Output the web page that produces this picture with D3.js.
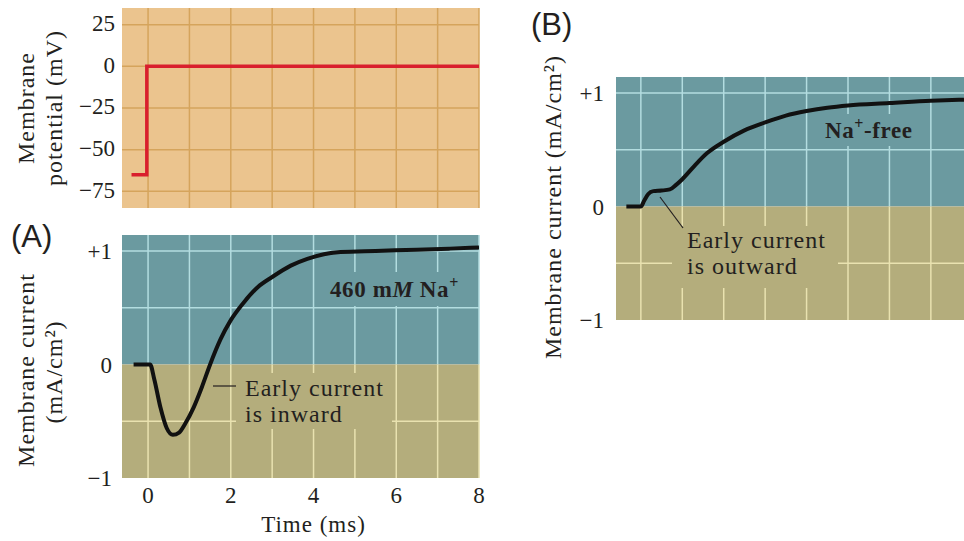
<!DOCTYPE html>
<html>
<head>
<meta charset="utf-8">
<script src="https://cdn.jsdelivr.net/npm/d3@7"></script>
<style>
  body { margin: 0; background: #fff; }
  text { font-family: "Liberation Serif", "Times New Roman", serif; fill: #231f20; }
  .lbl { letter-spacing: 1px; }
  .panel { font-family: "Liberation Sans", Arial, sans-serif; }
</style>
</head>
<body>
<svg id="chart" width="964" height="541"></svg>
<script>
// time axis (ms)
var timeTicks = [0, 2, 4, 6, 8];
var timeGrid = [0, 1, 2, 3, 4, 5, 6, 7, 8];

// voltage clamp step (mV)
var voltageTicks = [25, 0, -25, -50, -75];
var stepTime = [-0.4, -0.03, -0.03, 8];
var stepVoltage = [-65, -65, 0, 0];

// current ticks / gridlines (mA/cm2)
var currentTicks = [1, 0, -1];
var currentTickLabels = ["+1", "0", "\u22121"];
var currentGrid = [1, 0.5, -0.5];

// (A) 460 mM Na+
var naTime =    [-0.35, 0.05, 0.15, 0.3, 0.45, 0.6, 0.75, 0.9, 1.1, 1.3, 1.5, 1.75, 2.0, 2.3, 2.65, 3.0, 3.45, 3.85, 4.25, 4.65, 5.5, 6.5, 7.3, 8.0];
var naCurrent = [0, 0, -0.13, -0.38, -0.56, -0.62, -0.6, -0.52, -0.38, -0.2, 0, 0.22, 0.39, 0.54, 0.68, 0.77, 0.87, 0.93, 0.97, 0.99, 1.0, 1.01, 1.02, 1.03];

// (B) Na+-free
var freeTime =    [-0.35, 0.0, 0.08, 0.18, 0.3, 0.5, 0.7, 0.85, 1.0, 1.3, 1.6, 2.0, 2.5, 3.0, 3.5, 4.0, 4.5, 5.0, 6.0, 7.0, 7.8];
var freeCurrent = [0, 0, 0.05, 0.11, 0.135, 0.14, 0.15, 0.19, 0.24, 0.36, 0.47, 0.57, 0.67, 0.74, 0.8, 0.84, 0.87, 0.89, 0.91, 0.93, 0.94];

var svg = d3.select('#chart');

var tan = "#ebc48e", tanGrid = "#d5a45c";
var blue = "#6b9aa0", blueGrid = "#b3dde0";
var khaki = "#b4ad7c", khakiGrid = "#e9e2b0";

// scales
var xA = d3.scaleLinear().domain([-0.63, 8]).range([122, 479]);
var xB = d3.scaleLinear().domain([-0.6, 7.8]).range([616, 964]);
var yV = d3.scaleLinear().domain([-85, 35]).range([208, 8]);
var yA = d3.scaleLinear().domain([-1, 1.14]).range([478, 235]);
var yB = d3.scaleLinear().domain([-1, 1.14]).range([320, 77]);

function line(x, y) {
  return d3.line().x(function(d) { return x(d[0]); }).y(function(d) { return y(d[1]); });
}

/* ---------- top: membrane potential ---------- */
var gTop = svg.append("g");
gTop.append("rect")
  .attr("x", xA.range()[0]).attr("y", yV.range()[1])
  .attr("width", xA.range()[1] - xA.range()[0])
  .attr("height", yV.range()[0] - yV.range()[1])
  .attr("fill", tan);
gTop.selectAll(".vg").data(timeGrid).enter().append("line")
  .attr("x1", xA).attr("x2", xA)
  .attr("y1", yV.range()[1]).attr("y2", yV.range()[0])
  .attr("stroke", tanGrid).attr("stroke-width", 1.5);
gTop.selectAll(".hg").data(voltageTicks).enter().append("line")
  .attr("x1", xA.range()[0]).attr("x2", xA.range()[1])
  .attr("y1", yV).attr("y2", yV)
  .attr("stroke", tanGrid).attr("stroke-width", 1.5);
gTop.append("path")
  .datum(d3.zip(stepTime, stepVoltage))
  .attr("d", line(xA, yV).curve(d3.curveLinear))
  .attr("fill", "none").attr("stroke", "#d91f2d").attr("stroke-width", 3.5);
gTop.selectAll(".vt").data(voltageTicks).enter().append("text")
  .attr("x", 115).attr("y", function(d) { return yV(d) + 1; })
  .attr("text-anchor", "end").attr("dominant-baseline", "middle")
  .attr("font-size", 23)
  .text(function(d) { return d < 0 ? "\u2212" + (-d) : d; });
gTop.append("text").attr("class", "lbl")
  .attr("transform", "translate(26,108) rotate(-90)")
  .attr("text-anchor", "middle").attr("dominant-baseline", "central")
  .attr("font-size", 24).text("Membrane");
gTop.append("text").attr("class", "lbl")
  .attr("transform", "translate(54,108) rotate(-90)")
  .attr("text-anchor", "middle").attr("dominant-baseline", "central")
  .attr("font-size", 24).text("potential (mV)");

/* ---------- current panels ---------- */
function currentPanel(x, y, curve, grid, masks) {
  var g = svg.append("g");
  var x0 = x.range()[0], x1 = x.range()[1];
  g.append("rect").attr("x", x0).attr("y", y.range()[1])
    .attr("width", x1 - x0).attr("height", y(0) - y.range()[1]).attr("fill", blue);
  g.append("rect").attr("x", x0).attr("y", y(0))
    .attr("width", x1 - x0).attr("height", y.range()[0] - y(0)).attr("fill", khaki);

  // gridlines, lighter on each colour band
  grid.forEach(function(t) {
    g.append("line").attr("x1", x(t)).attr("x2", x(t))
      .attr("y1", y.range()[1]).attr("y2", y(0))
      .attr("stroke", blueGrid).attr("stroke-width", 1.5);
    g.append("line").attr("x1", x(t)).attr("x2", x(t))
      .attr("y1", y(0)).attr("y2", y.range()[0])
      .attr("stroke", khakiGrid).attr("stroke-width", 1.5);
  });
  currentGrid.forEach(function(v) {
    g.append("line").attr("x1", x0).attr("x2", x1)
      .attr("y1", y(v)).attr("y2", y(v))
      .attr("stroke", v > 0 ? blueGrid : khakiGrid).attr("stroke-width", 1.5);
  });
  // text backgrounds hide the grid
  masks.forEach(function(m) {
    g.append("rect").attr("x", m[0]).attr("y", m[1]).attr("width", m[2]).attr("height", m[3])
      .attr("fill", m[4]);
  });

  g.append("path").datum(curve)
    .attr("d", line(x, y).curve(d3.curveMonotoneX))
    .attr("fill", "none").attr("stroke", "#111").attr("stroke-width", 4)
    .attr("stroke-linejoin", "round");
  return g;
}

var gA = currentPanel(xA, yA, d3.zip(naTime, naCurrent), timeGrid,
  [[236, 373, 156, 56, khaki], [326, 272, 140, 34, blue]]);
var gB = currentPanel(xB, yB, d3.zip(freeTime, freeCurrent), timeGrid.slice(0, 8),
  [[672, 226, 166, 62, khaki], [818, 114, 104, 32, blue]]);

// tick labels
gA.selectAll(".ct").data(currentTicks).enter().append("text")
  .attr("x", 112).attr("y", function(d) { return yA(d) + 3; })
  .attr("text-anchor", "end").attr("dominant-baseline", "middle")
  .attr("font-size", 23)
  .text(function(d, i) { return currentTickLabels[i]; });
gB.selectAll(".ct").data(currentTicks).enter().append("text")
  .attr("x", 604).attr("y", function(d) { return yB(d) + 3; })
  .attr("text-anchor", "end").attr("dominant-baseline", "middle")
  .attr("font-size", 23)
  .text(function(d, i) { return currentTickLabels[i]; });

// time axis
gA.selectAll(".tt").data(timeTicks).enter().append("text")
  .attr("x", xA).attr("y", 503)
  .attr("text-anchor", "middle").attr("font-size", 23)
  .text(function(d) { return d; });
gA.append("text").attr("class", "lbl").attr("x", xA(4)).attr("y", 532)
  .attr("text-anchor", "middle").attr("font-size", 23).text("Time (ms)");

// y titles
gA.append("text").attr("class", "lbl")
  .attr("transform", "translate(26,370) rotate(-90)")
  .attr("text-anchor", "middle").attr("dominant-baseline", "central")
  .attr("font-size", 24).text("Membrane current");
gA.append("text").attr("class", "lbl")
  .attr("transform", "translate(54,372) rotate(-90)")
  .attr("text-anchor", "middle").attr("dominant-baseline", "central")
  .attr("font-size", 24).text("(mA/cm\u00B2)");
gB.append("text").attr("class", "lbl")
  .attr("transform", "translate(553,207) rotate(-90)")
  .attr("text-anchor", "middle").attr("dominant-baseline", "central")
  .attr("font-size", 24).text("Membrane current (mA/cm\u00B2)");

// annotations
var naLabel = gA.append("text").attr("x", 330).attr("y", 297)
  .attr("font-size", 23).attr("font-weight", "bold").attr("letter-spacing", "0.6px");
naLabel.append("tspan").text("460 m");
naLabel.append("tspan").attr("font-style", "italic").text("M");
naLabel.append("tspan").text(" Na");
naLabel.append("tspan").attr("dy", -9).attr("font-size", 16).text("+");

var freeLabel = gB.append("text").attr("x", 825).attr("y", 138)
  .attr("font-size", 23).attr("font-weight", "bold").attr("letter-spacing", "0.6px");
freeLabel.append("tspan").text("Na");
freeLabel.append("tspan").attr("dy", -9).attr("font-size", 16).text("+");
freeLabel.append("tspan").attr("dy", 9).text("-free");

gA.append("line").attr("x1", 213).attr("y1", 386).attr("x2", 236).attr("y2", 386)
  .attr("stroke", "#231f20").attr("stroke-width", 1.2);
gA.append("text").attr("class", "lbl").attr("x", 245).attr("y", 396).attr("font-size", 24).text("Early current");
gA.append("text").attr("class", "lbl").attr("x", 245).attr("y", 422).attr("font-size", 24).text("is inward");

gB.append("line").attr("x1", 660).attr("y1", 197).attr("x2", 683).attr("y2", 228)
  .attr("stroke", "#231f20").attr("stroke-width", 1.2);
gB.append("text").attr("class", "lbl").attr("x", 687).attr("y", 248).attr("font-size", 24).text("Early current");
gB.append("text").attr("class", "lbl").attr("x", 687).attr("y", 274).attr("font-size", 24).text("is outward");

// panel letters
svg.append("text").attr("class", "panel").attr("x", 11).attr("y", 247)
  .attr("font-size", 31).text("(A)");
svg.append("text").attr("class", "panel").attr("x", 531).attr("y", 35)
  .attr("font-size", 31).text("(B)");
</script>
</body>
</html>
